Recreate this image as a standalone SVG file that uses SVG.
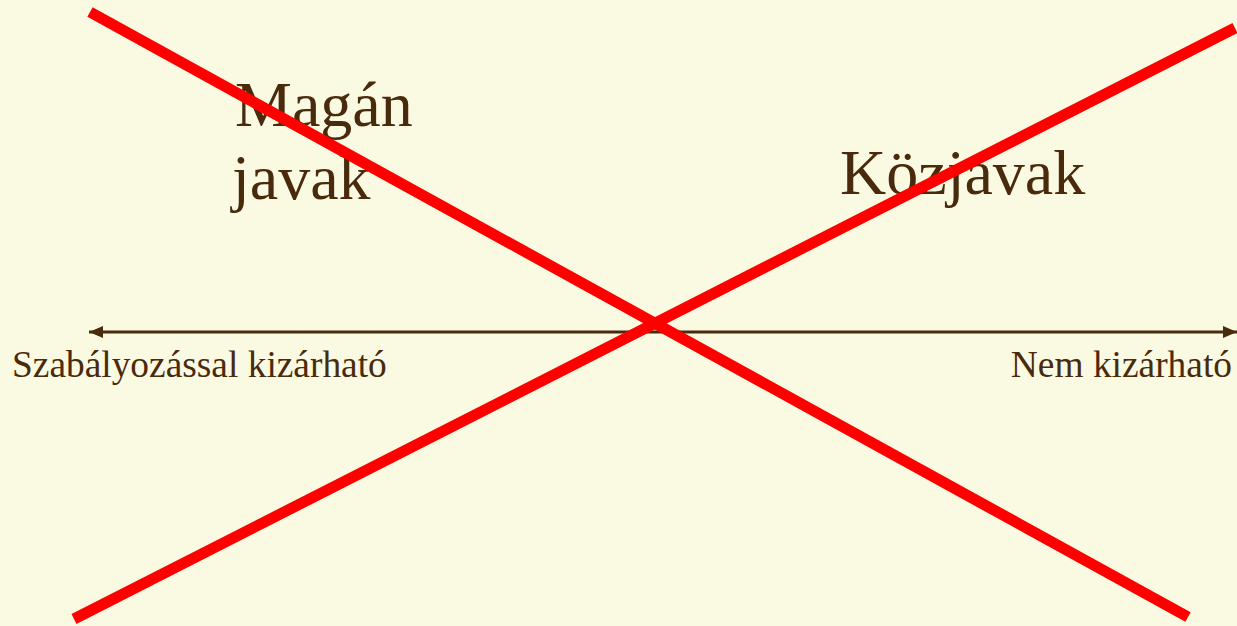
<svg xmlns="http://www.w3.org/2000/svg" width="1237" height="626" viewBox="0 0 1237 626">
<style>
.t{font-family:"Liberation Serif","Times New Roman",serif;fill:#4a2a0c}
.big{font-size:64px}
.small{font-size:37.4px}
.x{stroke:#ff0000;stroke-width:11;fill:none}
</style>
<defs>
<marker id="ah" viewBox="0 0 14 12" refX="14" refY="6" markerWidth="14" markerHeight="12" markerUnits="userSpaceOnUse" orient="auto-start-reverse">
<path d="M0,0 L14,6 L0,12 z" fill="#4a2a0c"/>
</marker>
</defs>
<rect width="1237" height="626" fill="#fafae2"/>
<g id="axis">
<line x1="89" y1="332" x2="1237" y2="332" stroke="#4a2a0c" stroke-width="3" marker-start="url(#ah)" marker-end="url(#ah)"/>
</g>
<g id="labels">
<text class="t big" x="235" y="126">Magán</text>
<text class="t big" x="232" y="199">javak</text>
<text class="t big" x="840" y="194">Közjavak</text>
<text class="t small" x="12" y="377">Szabályozással kizárható</text>
<text class="t small" x="1232" y="377" text-anchor="end">Nem kizárható</text>
</g>
<g id="cross">
<line class="x" x1="90" y1="12" x2="1188" y2="617"/>
<line class="x" x1="74" y1="619" x2="1235" y2="28"/>
</g>
</svg>
